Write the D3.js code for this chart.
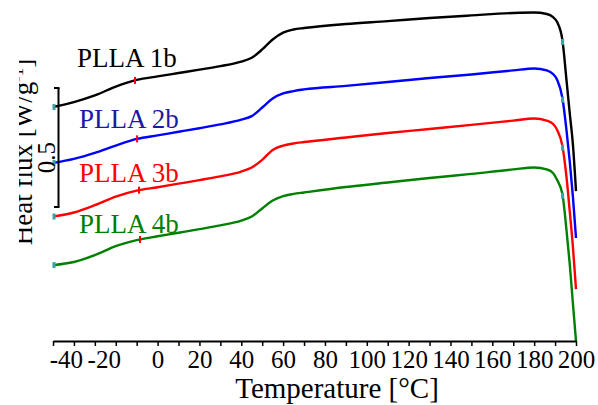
<!DOCTYPE html>
<html>
<head>
<meta charset="utf-8">
<script src="https://cdn.jsdelivr.net/npm/d3@7"></script>
<style>
  html, body { margin: 0; padding: 0; background: #fff; }
  svg { display: block; }
  text { font-family: "Liberation Serif", "Times New Roman", serif; }
</style>
</head>
<body>
<svg id="chart" width="598" height="405"></svg>
<script>
// ---------------- data ----------------
const temps = [-50, -40, -30, -20, -10, 0, 10, 20, 30, 40, 45, 50, 55, 60, 65, 70, 90, 110, 130, 150, 170, 180, 186, 189, 191, 193.5, 195.5, 197, 198.5, 200];

const seriesNames = ["PLLA 1b", "PLLA 2b", "PLLA 3b", "PLLA 4b"];

const flux1b = [0.983, 1.004, 1.032, 1.069, 1.097, 1.112, 1.126, 1.140, 1.155, 1.174, 1.190, 1.225, 1.267, 1.296, 1.309, 1.315, 1.332, 1.344, 1.357, 1.368, 1.378, 1.380, 1.374, 1.361, 1.340, 1.265, 1.092, 0.958, 0.828, 0.630];
const flux2b = [0.748, 0.765, 0.790, 0.821, 0.849, 0.864, 0.879, 0.894, 0.910, 0.930, 0.945, 0.981, 1.019, 1.040, 1.050, 1.057, 1.072, 1.088, 1.105, 1.120, 1.137, 1.145, 1.137, 1.122, 1.097, 1.021, 0.882, 0.756, 0.609, 0.433];
const flux3b = [0.523, 0.540, 0.571, 0.607, 0.632, 0.646, 0.661, 0.676, 0.692, 0.712, 0.729, 0.761, 0.803, 0.821, 0.830, 0.836, 0.855, 0.874, 0.891, 0.908, 0.926, 0.935, 0.926, 0.912, 0.887, 0.819, 0.685, 0.546, 0.399, 0.218];
const flux4b = [0.319, 0.332, 0.361, 0.399, 0.424, 0.440, 0.455, 0.470, 0.486, 0.506, 0.523, 0.557, 0.590, 0.609, 0.618, 0.624, 0.647, 0.666, 0.685, 0.702, 0.721, 0.729, 0.721, 0.706, 0.676, 0.618, 0.462, 0.324, 0.160, 0.000];

const onsetTemps = [-10.8, -9.8, -8.9, -8.4];   // red tick marks
const endMarkTemp = 193.6;                       // teal marks near the end
const startMarkTemp = -50;                       // teal marks at start

const lineColors = ["#000000", "#0000ff", "#ff0000", "#008000"];
const labelColors = ["#000000", "#1a1aa6", "#ff0000", "#008000"];

const xTickValues = d3.range(-50, 201, 10);
const xLabelValues = d3.range(-40, 201, 20);

const scaleBar = [0.563, 1.063];   // 0.5 W/g scale bar
const scaleBarLabel = "0.5";
const xTitle = "Temperature [°C]";

// ---------------- layout ----------------
const svg = d3.select("#chart");
const x = d3.scaleLinear().domain([-50, 200]).range([53, 576]);
const y = d3.scaleLinear().domain([0, 1.4]).range([341, 341 - 1.4 * 238]);

const seriesVals = [flux1b, flux2b, flux3b, flux4b];
const series = seriesNames.map((name, i) => ({
  name,
  color: lineColors[i],
  labelColor: labelColors[i],
  points: temps.map((t, j) => ({ t, v: seriesVals[i][j] })),
  onset: onsetTemps[i]
}));

const interp = (pts, t) => {
  for (let k = 0; k < pts.length - 1; k++) {
    if (t >= pts[k].t && t <= pts[k + 1].t) {
      const f = (t - pts[k].t) / (pts[k + 1].t - pts[k].t);
      return pts[k].v + f * (pts[k + 1].v - pts[k].v);
    }
  }
  return pts[pts.length - 1].v;
};

// y label (clipped as in the reference)
const defs = svg.append("defs");
defs.append("clipPath").attr("id", "ylabclip")
  .append("rect").attr("x", 19).attr("y", 50).attr("width", 30).attr("height", 198);

svg.append("g").attr("clip-path", "url(#ylabclip)")
  .append("text")
  .attr("transform", "translate(32,152) rotate(-90)")
  .attr("text-anchor", "middle")
  .attr("font-size", 27)
  .attr("fill", "#000")
  .call(t => {
    t.append("tspan").text("Heat flux [W/g");
    t.append("tspan").attr("baseline-shift", "super").attr("font-size", 17).text("-1");
    t.append("tspan").text("]");
  });

// lines
const line = d3.line().x(d => x(d.t)).y(d => y(d.v)).curve(d3.curveMonotoneX);
svg.append("g").selectAll("path").data(series).join("path")
  .attr("d", d => line(d.points))
  .attr("fill", "none")
  .attr("stroke", d => d.color)
  .attr("stroke-width", 2.4)
  .attr("stroke-linejoin", "round");

// markers
const mk = svg.append("g");
series.forEach(s => {
  [startMarkTemp, endMarkTemp].forEach(t => {
    mk.append("rect")
      .attr("x", x(t) - (t === startMarkTemp ? 0.5 : 1.5))
      .attr("y", y(interp(s.points, t)) - 3)
      .attr("width", 3).attr("height", 6)
      .attr("fill", "#3aa3a3");
  });
  mk.append("line")
    .attr("x1", x(s.onset)).attr("x2", x(s.onset))
    .attr("y1", y(interp(s.points, s.onset)) - 3.5)
    .attr("y2", y(interp(s.points, s.onset)) + 3.5)
    .attr("stroke", "#ff0000").attr("stroke-width", 2);
});

// series labels
const labelPos = [[77, 67], [79, 128], [79, 182], [79, 233]];
svg.append("g").selectAll("text").data(series).join("text")
  .attr("x", (d, i) => labelPos[i][0])
  .attr("y", (d, i) => labelPos[i][1])
  .attr("font-size", 27)
  .attr("fill", d => d.labelColor)
  .text(d => d.name);

// scale bar
const sb = svg.append("g").attr("stroke", "#000").attr("stroke-width", 2).attr("fill", "none");
sb.append("line").attr("x1", 58.5).attr("x2", 58.5).attr("y1", y(scaleBar[1])).attr("y2", y(scaleBar[0]));
sb.append("line").attr("x1", 54).attr("x2", 59.5).attr("y1", y(scaleBar[1])).attr("y2", y(scaleBar[1]));
sb.append("line").attr("x1", 54).attr("x2", 59.5).attr("y1", y(scaleBar[0])).attr("y2", y(scaleBar[0]));
svg.append("text")
  .attr("transform", "translate(55,157.5) rotate(-90)")
  .attr("text-anchor", "middle")
  .attr("font-size", 25)
  .text(scaleBarLabel);

// x axis
const xAxis = d3.axisBottom(x)
  .tickValues(xTickValues)
  .tickSize(5)
  .tickSizeOuter(0)
  .tickFormat(d => xLabelValues.includes(d) ? String(d) : "");
const gx = svg.append("g").attr("transform", "translate(0,341)").call(xAxis);
gx.select(".domain").attr("stroke", "#000").attr("stroke-width", 2);
gx.selectAll(".tick line").attr("stroke", "#000").attr("stroke-width", 1.5);
gx.selectAll(".tick text")
  .attr("font-family", "Liberation Serif, Times New Roman, serif")
  .attr("font-size", 25)
  .attr("fill", "#000")
  .attr("y", 27)
  .attr("dy", 0)
  .attr("dx", d => d === -40 ? -8 : (d === -20 ? -12 : 0));

svg.append("text")
  .attr("x", 337).attr("y", 398)
  .attr("text-anchor", "middle")
  .attr("font-size", 29)
  .text(xTitle);
</script>
</body>
</html>
